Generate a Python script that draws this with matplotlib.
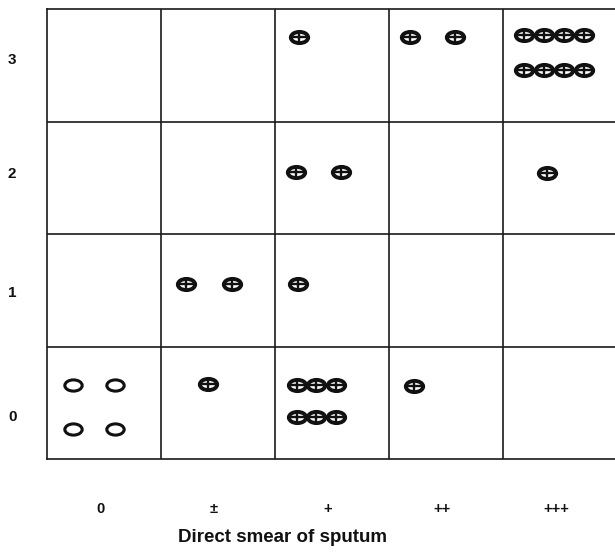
import matplotlib
matplotlib.use('Agg')
import matplotlib.pyplot as plt
import numpy as np
from matplotlib.path import Path
from matplotlib.transforms import Affine2D

# categories
smear_labels = ['0', '\u00b1', '+', '++', '+++']
culture_labels = ['0', '1', '2', '3']

# number of cases per cell: (smear index, culture index, count, culture positive)
cell_smear = [0, 1, 2, 3, 1, 2, 2, 4, 2, 3, 4]
cell_culture = [0, 0, 0, 0, 1, 1, 2, 2, 3, 3, 3]
cell_count = [4, 1, 6, 1, 2, 1, 2, 1, 1, 2, 8]
cell_positive = [False, True, True, True, True, True, True, True, True, True, True]

# where the first symbol sits inside each cell (fraction of cell), and spacing
first_x = [0.23, 0.41, 0.19, 0.22, 0.22, 0.20, 0.18, 0.39, 0.21, 0.18, 0.18]
first_y = [0.66, 0.67, 0.66, 0.65, 0.56, 0.56, 0.55, 0.54, 0.75, 0.75, 0.77]
per_row = {1: 1, 2: 2, 4: 2, 6: 3, 8: 4}
step_x = {1: 0, 2: 0.40, 4: 0.37, 6: 0.172, 8: 0.178}
step_y = {1: 0, 2: 0, 4: 0.39, 6: 0.285, 8: 0.31}
# label nudges, the printed labels are not quite centred
xlab_shift = -0.035
ylab_pos = [0.39, 1.49, 2.55, 3.56]

fig = plt.figure(figsize=(6.15, 5.54), dpi=100)
ax = fig.add_axes([47/615, 95/554, 570/615, 450/554])
ax.set_xlim(0, 5)
ax.set_ylim(0, 4)

line_col = '#1a1a1a'
for i in range(1, 5):
    ax.axvline(i, color=line_col, lw=1.2)
for j in range(1, 4):
    ax.axhline(j, color=line_col, lw=1.2)
for s in ax.spines.values():
    s.set_color(line_col)
    s.set_linewidth(1.2)

# oval marker shapes
circ = Path.unit_circle()
oval = circ.transformed(Affine2D().scale(1.55, 1.0))
cross = Path([(-1.55, 0), (1.55, 0), (0, -1), (0, 1)],
             [Path.MOVETO, Path.LINETO, Path.MOVETO, Path.LINETO])

pos_x, pos_y, neg_x, neg_y = [], [], [], []
for k in range(len(cell_count)):
    n = cell_count[k]
    for m in range(n):
        c = m % per_row[n]
        r = m // per_row[n]
        x = cell_smear[k] + first_x[k] + c * step_x[n]
        y = cell_culture[k] + first_y[k] - r * step_y[n]
        if cell_positive[k]:
            pos_x.append(x)
            pos_y.append(y)
        else:
            neg_x.append(x)
            neg_y.append(y)

ax.plot(pos_x, pos_y, ls='none', marker=oval, ms=12.5, mfc='white',
        mec='#111111', mew=2.8)
ax.plot(pos_x, pos_y, ls='none', marker=cross, ms=12.5, mec='#111111', mew=1.7)
ax.plot(neg_x, neg_y, ls='none', marker=oval, ms=12.5, mfc='white',
        mec='#111111', mew=2.2)

bold = dict(fontfamily='Liberation Sans', fontweight='bold', color='#111111')
ax.set_xticks(np.arange(len(smear_labels)) + 0.5 + xlab_shift)
ax.set_xticklabels(smear_labels, fontsize=10.5, **bold)
ax.set_yticks(ylab_pos)
ax.set_yticklabels(culture_labels, fontsize=11, **bold)
ax.tick_params(axis='x', length=0, pad=31)
ax.tick_params(axis='y', length=0, pad=22)

fig.text(283/615, 1 - 538/554, 'Direct smear of sputum', ha='center',
         va='center', fontsize=13.5, **bold)

fig.savefig('out.png', dpi=100)
